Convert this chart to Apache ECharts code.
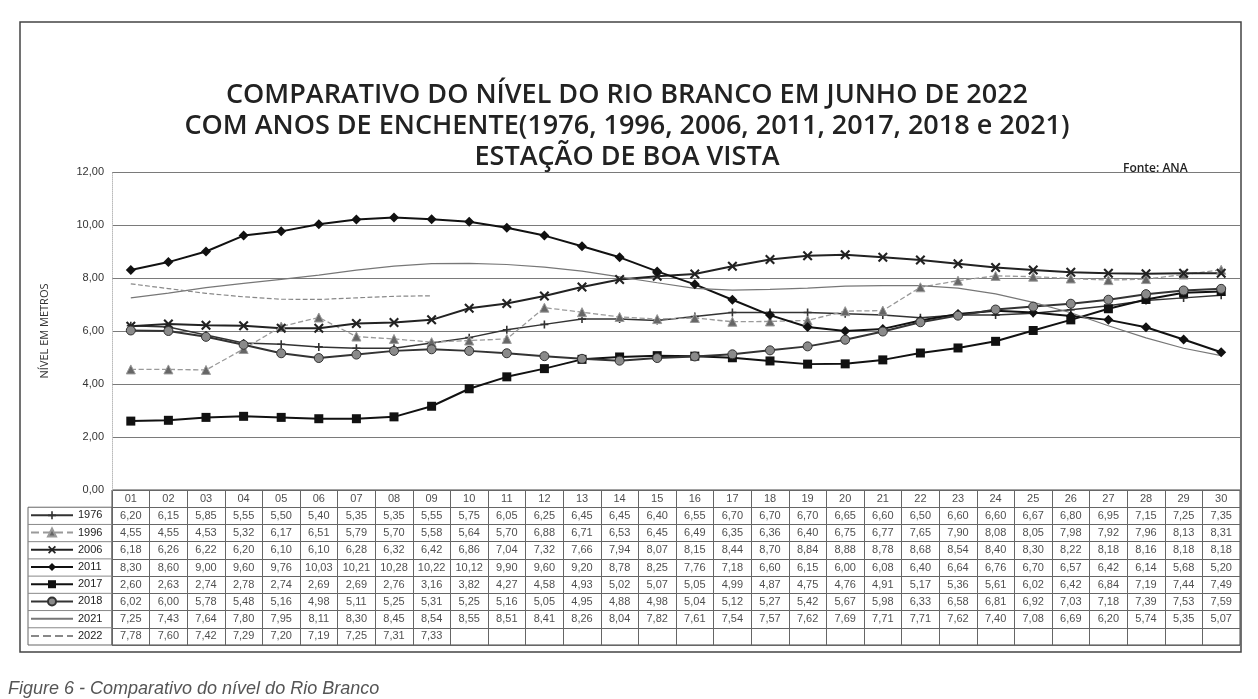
<!DOCTYPE html>
<html>
<head>
<meta charset="utf-8">
<title>Nível do Rio Branco - junho 2022</title>
<script src="https://cdn.jsdelivr.net/npm/echarts@6/dist/echarts.min.js"></script>
<style>
  html, body { margin: 0; padding: 0; background: #fff; }
  #chart { width: 1258px; height: 699px; }
</style>
</head>
<body>
<div id="chart"></div>
<script>
// dias do mês (cabeçalho da tabela)
var dias = ['01','02','03','04','05','06','07','08','09','10','11','12','13','14','15',
            '16','17','18','19','20','21','22','23','24','25','26','27','28','29','30'];
var anos = ['1976', '1996', '2006', '2011', '2017', '2018', '2021', '2022'];

// nível em metros, dias 01..30
var n1976 = [6.20,6.15,5.85,5.55,5.50,5.40,5.35,5.35,5.55,5.75,6.05,6.25,6.45,6.45,6.40,6.55,6.70,6.70,6.70,6.65,6.60,6.50,6.60,6.60,6.67,6.80,6.95,7.15,7.25,7.35];
var n1996 = [4.55,4.55,4.53,5.32,6.17,6.51,5.79,5.70,5.58,5.64,5.70,6.88,6.71,6.53,6.45,6.49,6.35,6.36,6.40,6.75,6.77,7.65,7.90,8.08,8.05,7.98,7.92,7.96,8.13,8.31];
var n2006 = [6.18,6.26,6.22,6.20,6.10,6.10,6.28,6.32,6.42,6.86,7.04,7.32,7.66,7.94,8.07,8.15,8.44,8.70,8.84,8.88,8.78,8.68,8.54,8.40,8.30,8.22,8.18,8.16,8.18,8.18];
var n2011 = [8.30,8.60,9.00,9.60,9.76,10.03,10.21,10.28,10.22,10.12,9.90,9.60,9.20,8.78,8.25,7.76,7.18,6.60,6.15,6.00,6.08,6.40,6.64,6.76,6.70,6.57,6.42,6.14,5.68,5.20];
var n2017 = [2.60,2.63,2.74,2.78,2.74,2.69,2.69,2.76,3.16,3.82,4.27,4.58,4.93,5.02,5.07,5.05,4.99,4.87,4.75,4.76,4.91,5.17,5.36,5.61,6.02,6.42,6.84,7.19,7.44,7.49];
var n2018 = [6.02,6.00,5.78,5.48,5.16,4.98,5.11,5.25,5.31,5.25,5.16,5.05,4.95,4.88,4.98,5.04,5.12,5.27,5.42,5.67,5.98,6.33,6.58,6.81,6.92,7.03,7.18,7.39,7.53,7.59];
var n2021 = [7.25,7.43,7.64,7.80,7.95,8.11,8.30,8.45,8.54,8.55,8.51,8.41,8.26,8.04,7.82,7.61,7.54,7.57,7.62,7.69,7.71,7.71,7.62,7.40,7.08,6.69,6.20,5.74,5.35,5.07];
var n2022 = [7.78,7.60,7.42,7.29,7.20,7.19,7.25,7.31,7.33,null,null,null,null,null,null,
             null,null,null,null,null,null,null,null,null,null,null,null,null,null,null];

var niveis = { '1976': n1976, '1996': n1996, '2006': n2006, '2011': n2011,
               '2017': n2017, '2018': n2018, '2021': n2021, '2022': n2022 };

var simboloX = 'path://M0,1.5L1.5,0L5,3.5L8.5,0L10,1.5L6.5,5L10,8.5L8.5,10L5,6.5L1.5,10L0,8.5L3.5,5z';
var simboloMais = 'path://M4,0h2v4h4v2h-4v4h-2v-4h-4v-2h4z';

// aparência de cada ano (cópia em tons de cinza)
var estilos = {
  '1976': { cor: '#333', largura: 1.5, tipo: 'solid',  simbolo: simboloMais, tam: 8 },
  '1996': { cor: '#9a9a9a', largura: 1.3, tipo: 'dashed', simbolo: 'triangle', tam: 9, corSimb: '#666' },
  '2006': { cor: '#222', largura: 2,   tipo: 'solid',  simbolo: simboloX, tam: 10 },
  '2011': { cor: '#111', largura: 2,   tipo: 'solid',  simbolo: 'diamond', tam: 10 },
  '2017': { cor: '#111', largura: 2,   tipo: 'solid',  simbolo: 'rect', tam: 9 },
  '2018': { cor: '#333', largura: 2,   tipo: 'solid',  simbolo: 'circle', tam: 9, corSimb: '#8a8a8a' },
  '2021': { cor: '#777', largura: 1.2, tipo: 'solid',  simbolo: 'none', tam: 0 },
  '2022': { cor: '#888', largura: 1.2, tipo: 'dashed', simbolo: 'none', tam: 0 }
};

function fmt(v) {
  return v.toFixed(2).replace('.', ',');
}

var tabelaTopo = 490;
var tabelaAltura = 155;
var linhaAlt = tabelaAltura / 9;

var chart = echarts.init(document.getElementById('chart'));

// séries das linhas
var series = anos.map(function (a) {
  var e = estilos[a];
  return {
    name: a,
    type: 'line',
    xAxisIndex: 0,
    yAxisIndex: 0,
    data: niveis[a],
    symbol: e.simbolo,
    symbolSize: e.tam,
    showSymbol: e.simbolo !== 'none',
    lineStyle: { color: e.cor, width: e.largura, type: e.tipo },
    itemStyle: { color: e.corSimb || e.cor, borderColor: e.cor, borderWidth: e.corSimb ? 1 : 0 },
    emphasis: { disabled: true },
    z: 3
  };
});

// células da tabela de dados
var celulas = [];
dias.forEach(function (d, i) { celulas.push([i, 0, d]); });
anos.forEach(function (a, r) {
  niveis[a].forEach(function (v, i) {
    if (v != null) celulas.push([i, r + 1, fmt(v)]);
  });
});

series.push({
  name: 'tabela',
  type: 'scatter',
  xAxisIndex: 1,
  yAxisIndex: 1,
  data: celulas,
  symbolSize: 1,
  silent: true,
  itemStyle: { color: 'rgba(0,0,0,0)' },
  label: {
    show: true,
    position: 'inside',
    formatter: function (p) { return p.value[2]; },
    fontSize: 11,
    fontFamily: 'Liberation Sans',
    color: '#222'
  },
  z: 5
});

// uma legenda por linha da tabela (sem marcador para 2021 e 2022)
var legendas = anos.map(function (a, r) {
  var item = { name: a };
  if (estilos[a].simbolo === 'none') item.itemStyle = { opacity: 0 };
  return {
    data: [item],
    left: 30,
    top: tabelaTopo + linhaAlt * (r + 1) + (linhaAlt - 12) / 2,
    padding: 0,
    itemWidth: 42,
    itemHeight: 10,
    selectedMode: false,
    textStyle: { fontSize: 11, fontFamily: 'Liberation Sans', color: '#222' }
  };
});

// moldura e bordas da coluna de legenda
var graficos = [
  {
    type: 'rect',
    shape: { x: 20, y: 22, width: 1221, height: 630 },
    style: { fill: 'none', stroke: '#444', lineWidth: 1.5 },
    silent: true
  },
  {
    type: 'rect',
    shape: { x: 28, y: tabelaTopo + linhaAlt, width: 84, height: tabelaAltura - linhaAlt },
    style: { fill: 'none', stroke: '#666', lineWidth: 1 },
    silent: true
  },
  {
    type: 'text',
    left: 8,
    top: 680,
    style: { text: 'Figure 6 - Comparativo do nível do Rio Branco', fontSize: 18,
             fontStyle: 'italic', fontFamily: 'Liberation Sans', fill: '#555' },
    silent: true
  }
];
for (var r = 2; r <= 8; r++) {
  graficos.push({
    type: 'line',
    shape: { x1: 28, y1: tabelaTopo + linhaAlt * r, x2: 112, y2: tabelaTopo + linhaAlt * r },
    style: { stroke: '#888', lineWidth: 1 },
    silent: true
  });
}

var option = {
  backgroundColor: '#fff',
  animation: false,
  title: [
    {
      text: 'COMPARATIVO DO NÍVEL DO RIO BRANCO EM JUNHO DE 2022\nCOM ANOS DE ENCHENTE(1976, 1996, 2006, 2011, 2017, 2018 e 2021)\nESTAÇÃO DE BOA VISTA',
      left: 622,
      top: 75,
      textAlign: 'center',
      textStyle: { fontSize: 27, fontWeight: 600, fontFamily: 'Open Sans', color: '#222', lineHeight: 31 }
    },
    {
      text: 'Fonte: ANA',
      left: 1118,
      top: 158,
      textStyle: { fontSize: 12, fontWeight: 600, fontFamily: 'Open Sans', color: '#222' }
    }
  ],
  legend: legendas,
  grid: [
    { left: 112, right: 18, top: 172, height: 318 },
    { left: 112, right: 18, top: tabelaTopo, height: tabelaAltura,
      show: true, borderColor: '#444', borderWidth: 1 }
  ],
  xAxis: [
    {
      type: 'category', gridIndex: 0, data: dias, boundaryGap: true,
      axisLine: { show: false }, axisTick: { show: false },
      axisLabel: { show: false }, splitLine: { show: false }
    },
    {
      type: 'category', gridIndex: 1, data: dias, boundaryGap: true,
      axisLine: { show: false }, axisTick: { show: false },
      axisLabel: { show: false },
      splitLine: { show: true, interval: 0, lineStyle: { color: '#666', width: 1 } }
    }
  ],
  yAxis: [
    {
      type: 'value', gridIndex: 0, min: 0, max: 12, interval: 2,
      name: 'NÍVEL EM METROS',
      nameLocation: 'middle',
      nameRotate: 90,
      nameGap: 62,
      nameTextStyle: { fontSize: 11, fontFamily: 'Open Sans', color: '#333' },
      axisLine: { show: true, lineStyle: { color: '#bbb', type: 'dotted' } },
      axisTick: { show: false },
      axisLabel: {
        margin: 8, fontSize: 11, fontFamily: 'Liberation Sans', color: '#333',
        formatter: function (v) { return fmt(v); }
      },
      splitLine: { show: true, lineStyle: { color: '#7a7a7a', width: 1 } }
    },
    {
      type: 'category', gridIndex: 1, data: [''].concat(anos), inverse: true,
      axisLine: { show: false }, axisTick: { show: false },
      axisLabel: { show: false },
      splitLine: { show: true, interval: 0, lineStyle: { color: '#666', width: 1 } }
    }
  ],
  graphic: graficos,
  series: series
};

chart.setOption(option);
</script>
</body>
</html>
